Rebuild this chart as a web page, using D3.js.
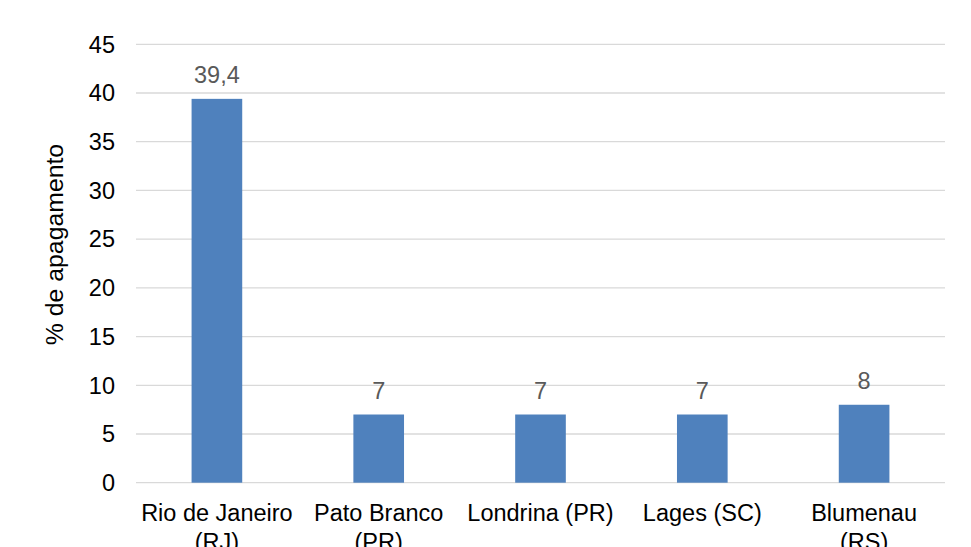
<!DOCTYPE html>
<html>
<head>
<meta charset="utf-8">
<script src="https://cdn.jsdelivr.net/npm/d3@7"></script>
<style>
  html, body { margin: 0; padding: 0; background: #fff; }
  svg { display: block; font-family: "Liberation Sans", Arial, sans-serif; }
</style>
</head>
<body>
<svg id="chart" width="971" height="547"></svg>
<script>
// Share of erasure by city
const categories = [["Rio de Janeiro", "(RJ)"], ["Pato Branco", "(PR)"], ["Londrina (PR)"], ["Lages (SC)"], ["Blumenau", "(RS)"]];
const values = [39.4, 7, 7, 7, 8];
const valueLabels = ["39,4", "7", "7", "7", "8"];
const yTicks = [0, 5, 10, 15, 20, 25, 30, 35, 40, 45];
const yTitle = "% de apagamento";

const svg = d3.select("#chart");
const margin = { left: 136, right: 26, top: 44.3, bottom: 64.3 };
const W = 971, H = 547;

const x = d3.scaleBand()
  .domain(d3.range(categories.length))
  .range([margin.left, W - margin.right])
  .paddingInner(0.687)
  .paddingOuter(0.3435);

const y = d3.scaleLinear()
  .domain([0, 45])
  .range([H - margin.bottom, margin.top]);

// gridlines
svg.append("g")
  .selectAll("line")
  .data(yTicks)
  .join("line")
  .attr("x1", margin.left)
  .attr("x2", W - margin.right)
  .attr("y1", d => y(d))
  .attr("y2", d => y(d))
  .attr("stroke", "#d9d9d9")
  .attr("stroke-width", 1.3);

// y tick labels
svg.append("g")
  .selectAll("text")
  .data(yTicks)
  .join("text")
  .attr("x", 115)
  .attr("y", d => y(d))
  .attr("dy", "0.35em")
  .attr("text-anchor", "end")
  .attr("font-size", 23.5)
  .attr("fill", "#000")
  .text(d => d);

// bars
svg.append("g")
  .selectAll("rect")
  .data(values)
  .join("rect")
  .attr("x", (d, i) => x(i))
  .attr("width", x.bandwidth())
  .attr("y", d => y(d))
  .attr("height", d => y(0) - y(d))
  .attr("fill", "#4f81bd");

// value labels
svg.append("g")
  .selectAll("text")
  .data(values)
  .join("text")
  .attr("x", (d, i) => x(i) + x.bandwidth() / 2)
  .attr("y", d => y(d) - 16)
  .attr("text-anchor", "middle")
  .attr("font-size", 23.5)
  .attr("fill", "#595959")
  .text((d, i) => valueLabels[i]);

// category labels (wrapped onto two lines where needed)
const cat = svg.append("g")
  .selectAll("text")
  .data(categories)
  .join("text")
  .attr("x", (d, i) => x(i) + x.bandwidth() / 2)
  .attr("y", 520.7)
  .attr("text-anchor", "middle")
  .attr("font-size", 23.5)
  .attr("fill", "#000");
cat.selectAll("tspan")
  .data(d => d)
  .join("tspan")
  .attr("x", function () { return this.parentNode.getAttribute("x"); })
  .attr("dy", (d, j) => j === 0 ? 0 : 29.5)
  .text(d => d);

// y-axis title
svg.append("text")
  .attr("transform", "translate(63,244.5) rotate(-90)")
  .attr("text-anchor", "middle")
  .attr("font-size", 24.8)
  .attr("fill", "#000")
  .text(yTitle);
</script>
</body>
</html>
